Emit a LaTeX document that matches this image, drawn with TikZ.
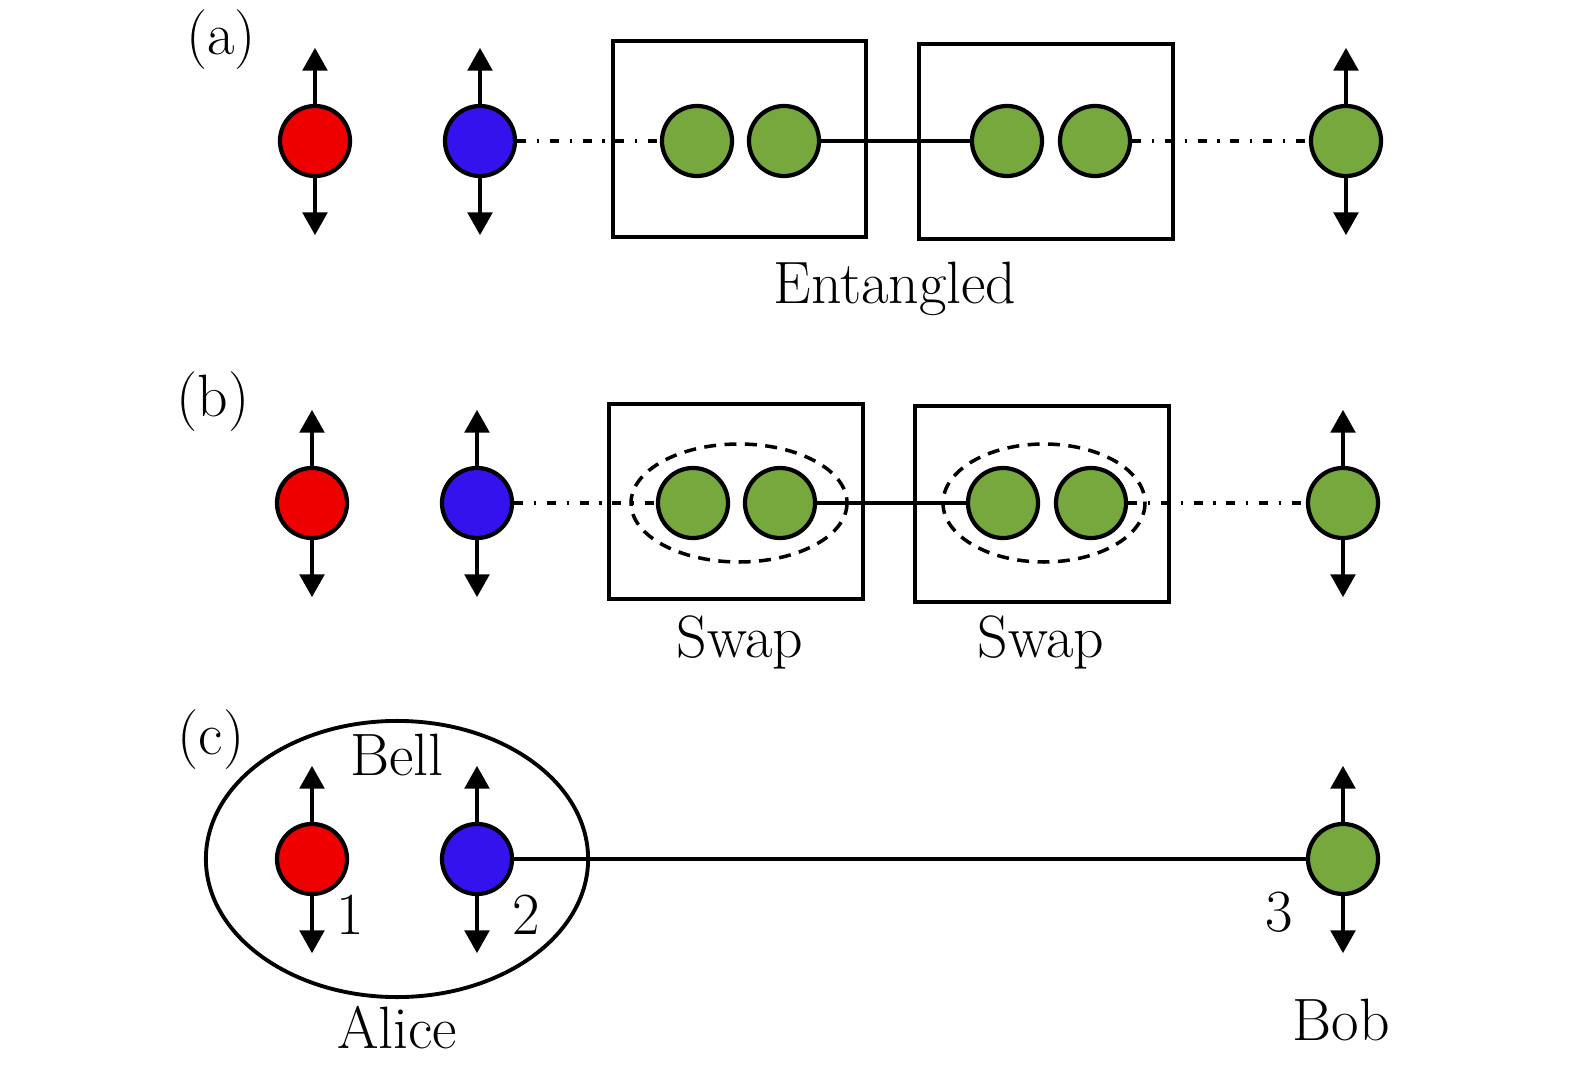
\documentclass[tikz,border=0pt]{standalone}
\usepackage{amsmath}
\usepackage{tikz}
\usetikzlibrary{positioning, arrows.meta, calc, shapes.geometric}
\definecolor{spinred}{RGB}{238,0,0}
\definecolor{spinblue}{RGB}{52,18,238}
\definecolor{spingreen}{RGB}{118,168,62}
\tikzset{qubit/.style={circle, draw, line width=1.2pt, minimum size=0.7cm, inner sep=0pt},
	spin/.style={line width=1.1pt},
	tip/.style={-{Triangle[width=7pt,length=6.5pt]}},
	lab/.style={font=\fontsize{17}{20}\selectfont},
	dashdot/.style={line width=1.1pt, dash pattern=on 2.6pt off 3pt on 0.7pt off 3pt},
	pairbox/.style={draw, line width=1.1pt},}

\begin{document}
\begin{tikzpicture}[x=0.01cm, y=-0.01cm]
				\useasboundingbox (0,0) rectangle (1575,1073);
				% (a) entangled chain
				\node[lab] (la) at (221,40) {(a)};
				\draw[pairbox] (613,41) rectangle (866,237);
				\draw[pairbox] (919,44) rectangle (1173,239);
				\node[qubit, fill=spinred] (ra) at (315,141) {};
				\node[qubit, fill=spinblue] (ba) at (480,141) {};
				\node[qubit, fill=spingreen] (ga1) at (697,141) {};
				\node[qubit, fill=spingreen] (ga2) at (784,141) {};
				\node[qubit, fill=spingreen] (ga3) at (1007,141) {};
				\node[qubit, fill=spingreen] (ga4) at (1095,141) {};
				\node[qubit, fill=spingreen] (ga5) at (1346,141) {};
				\node[lab] (ent) at (895,289) {Entangled};
				\draw[dashdot] (ba) -- (ga1);
				\draw[spin] (ga2) -- (ga3);
				\draw[dashdot] (ga4) -- (ga5);
				% (b) swapping
				\node[lab] (lb) at (213,402) {(b)};
				\draw[pairbox] (609,404) rectangle (863,599);
				\draw[pairbox] (915,406) rectangle (1169,602);
				\node[qubit, fill=spinred] (rb) at (312,503) {};
				\node[qubit, fill=spinblue] (bb) at (477,503) {};
				\node[qubit, fill=spingreen] (gb1) at (693,503) {};
				\node[qubit, fill=spingreen] (gb2) at (780,503) {};
				\node[qubit, fill=spingreen] (gb3) at (1003,503) {};
				\node[qubit, fill=spingreen] (gb4) at (1091,503) {};
				\node[qubit, fill=spingreen] (gb5) at (1343,503) {};
				\draw[line width=1pt, dash pattern=on 3.4pt off 2.4pt] (739,503) ellipse (108 and 59);
				\draw[line width=1pt, dash pattern=on 3.4pt off 2.4pt] (1044,503) ellipse (101 and 59);
				\node[lab] (sw1) at (740,642) {Swap};
				\node[lab] (sw2) at (1041,642) {Swap};
				\draw[dashdot] (bb) -- (gb1);
				\draw[spin] (gb2) -- (gb3);
				\draw[dashdot] (gb4) -- (gb5);
				% (c) teleportation
				\node[lab] (lc) at (211,740) {(c)};
				\node[ellipse, draw, line width=1.1pt, minimum width=3.82cm, minimum height=2.76cm] (bell) at (397,859) {};
				\node[qubit, fill=spinred] (rc) at (312,859) {};
				\node[qubit, fill=spinblue] (bc) at (477,859) {};
				\node[qubit, fill=spingreen] (gc) at (1343,859) {};
				\node[lab] (belltxt) at (397,755) {Bell};
				\node[lab] (alice) at (397,1028) {Alice};
				\node[lab] (bob) at (1341,1020) {Bob};
				\node[lab] (n1) at (350,915) {1};
				\node[lab] (n2) at (526,915) {2};
				\node[lab] (n3) at (1279,912) {3};
				\draw[spin] (bc) -- (gc);
				% spin arrows
				\foreach \q in {ra,ba,ga5,rb,bb,gb5,rc,bc,gc}{
					\coordinate (\q up) at ([yshift=0.56cm]\q.north);
					\coordinate (\q down) at ([yshift=-0.57cm]\q.south);
					\draw[spin, tip] (\q.north) -- (\q up);
					\draw[spin, tip] (\q.south) -- (\q down);
				}
			\end{tikzpicture}
\end{document}
